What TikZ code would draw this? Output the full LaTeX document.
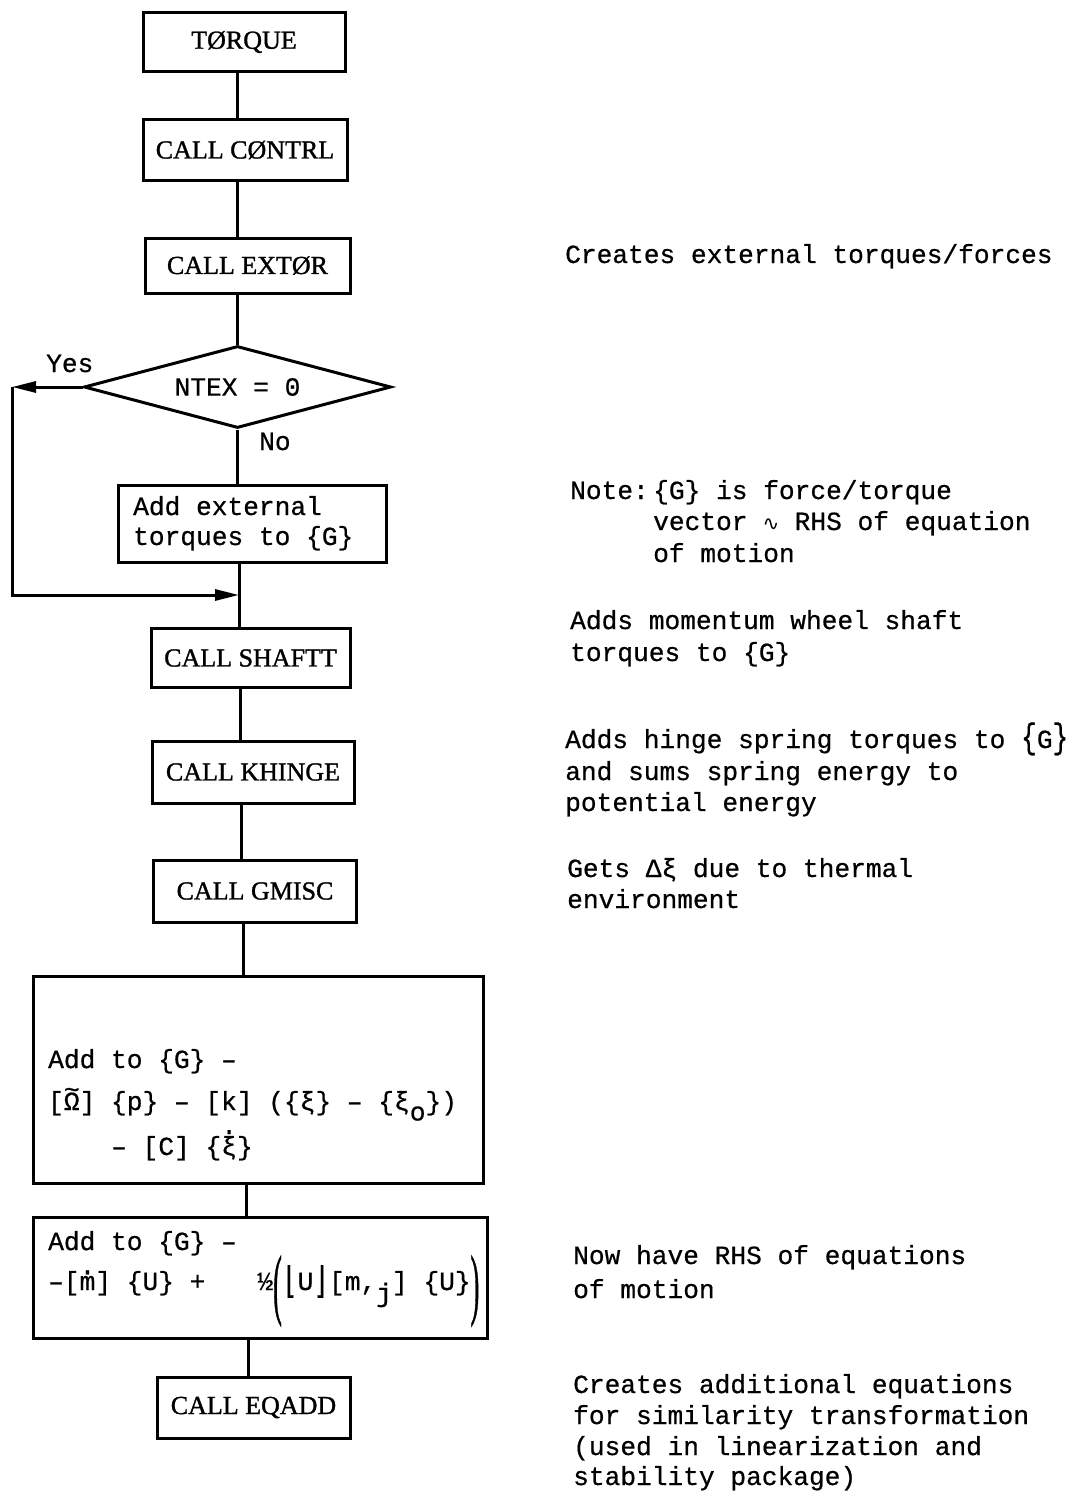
\documentclass[tikz,border=0pt]{standalone}
\usepackage{fontspec}
\usepackage{graphicx}
\usetikzlibrary{shapes.geometric,arrows.meta}
\newfontfamily\monof[FakeBold=0.6]{Liberation Mono}
\newfontfamily\serf[FakeBold=1.2]{Liberation Serif}
\newfontfamily\djv{DejaVu Sans}
\newfontfamily\djvm[FakeBold=0.6]{DejaVu Sans Mono}
\newcommand\tOm{\ooalign{Ω\cr\hidewidth\raisebox{0.45em}{\textasciitilde}\hidewidth\cr}}
\newcommand\dotov[2]{\ooalign{#2\cr\hidewidth\raisebox{#1}{.}\hidewidth\cr}}
\newcommand\lowr[1]{\raisebox{-0.4em}{#1}}
\newcommand\bigpar[1]{\raisebox{-20pt}{\scalebox{1}[3]{\serf #1}}}
\newcommand\bigbr[1]{\scalebox{1}[1.35]{#1}}
\tikzset{
  box/.style={draw, line width=3pt, rectangle, inner sep=0pt},
  sbox/.style={box, font=\serf\fontsize{26}{31}\selectfont},
  mono/.style={font=\monof\fontsize{26.2}{31.5}\selectfont, inner sep=0pt},
  conn/.style={line width=3pt},
  arr/.style={conn, -{Triangle[length=24pt,width=11pt]}},
}
\begin{document}
\begin{tikzpicture}[x=1pt,y=-1pt]
\useasboundingbox (0,0) rectangle (1069,1493);
\fill[white] (0,0) rectangle (1069,1493);

% flowchart boxes
\node[sbox, minimum width=202pt, minimum height=59pt] (tq) at (244,42) {TØRQUE};
\node[sbox, minimum width=204pt, minimum height=60pt] (ct) at (245,150) {CALL CØNTRL};
\node[sbox, minimum width=205pt, minimum height=55pt] (ex) at (247.5,265.5) {CALL EXTØR};
\node[draw, diamond, aspect=3.75, line width=3pt, minimum width=307pt, minimum height=82pt, mono, inner sep=0pt] (dm) at (237.5,387) {NTEX = 0};
\node[box, minimum width=268pt, minimum height=77pt] (ae) at (252,523.5) {};
\node[mono, anchor=base west] (ae1) at (133,515) {Add external};
\node[mono, anchor=base west] (ae2) at (133,545) {torques to \{G\}};
\node[sbox, minimum width=199pt, minimum height=59pt] (sh) at (250.5,658) {CALL SHAFTT};
\node[sbox, minimum width=202pt, minimum height=62pt] (kh) at (253,772) {CALL KHINGE};
\node[sbox, minimum width=203pt, minimum height=62pt] (gm) at (255,891) {CALL GMISC};
\node[box, minimum width=450pt, minimum height=207pt] (bb) at (258,1079.5) {};
\node[mono, anchor=base west] (bb1) at (48,1068) {Add to \{G\} –};
\node[mono, anchor=base west] (bb2) at (48,1110) {[\tOm] \{p\} – [k] (\{ξ\} – \{ξ\lowr{o}\})};
\node[mono, anchor=base west] (bb3) at (111,1155) {– [C] \{\dotov{0.8em}{ξ}\}};
\node[box, minimum width=454pt, minimum height=121pt] (b2) at (260,1277.5) {};
\node[mono, anchor=base west] (b21) at (48,1250) {Add to \{G\} –};
\node[mono, anchor=base west] (b22) at (48,1290) {–[\dotov{0.6em}{m}] \{U\} +\hspace*{52pt}½\bigpar({\djvm\raisebox{-3pt}{\scalebox{1}[1.4]{⌊}}}U{\djvm\raisebox{-3pt}{\scalebox{1}[1.4]{⌋}}}[m,\raisebox{-0.45em}{j}] \{U\}\bigpar)};
\node[sbox, minimum width=193pt, minimum height=61pt] (eq) at (253.5,1407.5) {CALL EQADD};

% labels
\node[mono, anchor=base west] (yes) at (46,372) {Yes};
\node[mono, anchor=base west] (no) at (259,450) {No};

% helper coordinates
\coordinate (v1) at (237,0);
\coordinate (v2) at (237.5,0);
\coordinate (yl) at (12,387);
\coordinate (yb) at (12,595);
\coordinate (jn) at (239,595);
\coordinate (v5) at (240,0);
\coordinate (v6) at (241,0);
\coordinate (v7) at (243,0);
\coordinate (v8) at (246,0);
\coordinate (v9) at (248,0);

% connectors
\draw[conn] (tq.south -| v1) -- (ct.north -| v1);
\draw[conn] (ct.south -| v2) -- (ex.north -| v2);
\draw[conn] (ex.south -| v2) -- (dm.north);
\draw[conn] (dm.south) -- (dm.south |- ae.north);
\draw[arr] (dm.west) -- (yl);
\draw[arr] (yl) -- (yb) -- (jn);
\draw[conn] (ae.south -| jn) -- (sh.north -| jn);
\draw[conn] (sh.south -| v5) -- (kh.north -| v5);
\draw[conn] (kh.south -| v6) -- (gm.north -| v6);
\draw[conn] (gm.south -| v7) -- (bb.north -| v7);
\draw[conn] (bb.south -| v8) -- (b2.north -| v8);
\draw[conn] (b2.south -| v9) -- (eq.north -| v9);

% right-hand comments
\node[mono, anchor=base west] (c1) at (565,263) {Creates external torques/forces};
\node[mono, anchor=base west] (n0) at (570,499) {Note:};
\node[mono, anchor=base west] (n1) at (653,499) {\{G\} is force/torque};
\node[mono, anchor=base west] (n2) at (653,530) {vector \makebox[15.7pt]{\djv\fontsize{20}{20}\selectfont ∿} RHS of equation};
\node[mono, anchor=base west] (n3) at (653,562) {of motion};
\node[mono, anchor=base west] (s1) at (570,629) {Adds momentum wheel shaft};
\node[mono, anchor=base west] (s2) at (570,661) {torques to \{G\}};
\node[mono, anchor=base west] (k1) at (565,748) {Adds hinge spring torques to \bigbr{\{}G\bigbr{\}}};
\node[mono, anchor=base west] (k2) at (565,780) {and sums spring energy to};
\node[mono, anchor=base west] (k3) at (565,811) {potential energy};
\node[mono, anchor=base west] (g1) at (567,877) {Gets Δξ due to thermal};
\node[mono, anchor=base west] (g2) at (567,908) {environment};
\node[mono, anchor=base west] (w1) at (573,1264) {Now have RHS of equations};
\node[mono, anchor=base west] (w2) at (573,1298) {of motion};
\node[mono, anchor=base west] (q1) at (573,1393) {Creates additional equations};
\node[mono, anchor=base west] (q2) at (573,1424) {for similarity transformation};
\node[mono, anchor=base west] (q3) at (573,1455) {(used in linearization and};
\node[mono, anchor=base west] (q4) at (573,1485) {stability package)};
\end{tikzpicture}
\end{document}
